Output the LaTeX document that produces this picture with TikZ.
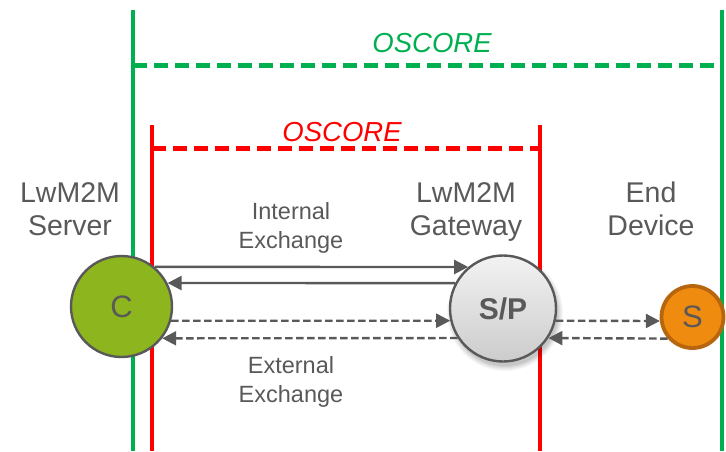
\documentclass[tikz,border=0pt]{standalone}
\usepackage{fontspec}
\setmainfont{Liberation Sans}
\usetikzlibrary{arrows.meta,calc}

\definecolor{oscgreen}{HTML}{00B050}
\definecolor{oscred}{HTML}{FF0000}
\definecolor{txtgray}{HTML}{595959}
\definecolor{clientgreen}{HTML}{8DB51E}
\definecolor{devorange}{HTML}{EF8B0E}
\definecolor{devborder}{HTML}{B7660E}

\tikzset{
  boundary/.style={line width=4pt},
  scopeline/.style={line width=5pt, dash pattern=on 14pt off 7pt},
  oscorelabel/.style={font=\fontsize{27.5}{32}\selectfont\itshape, anchor=base, inner sep=0pt},
  rolelabel/.style={font=\fontsize{28.5}{33}\selectfont, text=txtgray, align=center, anchor=north, inner sep=0pt},
  exlabel/.style={font=\fontsize{23.5}{29}\selectfont, text=txtgray, align=center, anchor=north, inner sep=0pt},
  endpoint/.style={circle, draw=txtgray, line width=2.4pt, inner sep=0pt, text=txtgray},
  msg/.style={draw=txtgray, line width=2.4pt, -{Triangle[length=14pt,width=14pt]}},
  msgdash/.style={msg, dash pattern=on 7.5pt off 3.5pt},
}

\begin{document}
\begin{tikzpicture}[x=1pt,y=-1pt]
  \useasboundingbox (0,0) rectangle (726,451);

  % end-to-end and hop-by-hop security boundaries
  \coordinate (gTopL) at (133,10);
  \coordinate (gBotL) at (133,451);
  \coordinate (gTopR) at (722,10);
  \coordinate (gBotR) at (722,451);
  \coordinate (gDashL) at (133,65);
  \coordinate (gDashR) at (722,65);
  \coordinate (rTopL) at (152,125);
  \coordinate (rBotL) at (152,451);
  \coordinate (rTopR) at (540,125);
  \coordinate (rBotR) at (540,451);
  \coordinate (rDashL) at (152,148);
  \coordinate (rDashR) at (540,148);

  \draw[boundary, oscgreen] (gTopL) -- (gBotL);
  \draw[boundary, oscgreen] (gTopR) -- (gBotR);
  \draw[scopeline, oscgreen] (gDashL) -- (gDashR);
  \draw[boundary, oscred, line width=4.5pt] (rTopL) -- (rBotL);
  \draw[boundary, oscred, line width=4.5pt] (rTopR) -- (rBotR);
  \draw[scopeline, oscred] (rDashL) -- (rDashR);

  \node[oscorelabel, text=oscgreen] (oscG) at (432,52) {OSCORE};
  \node[oscorelabel, text=oscred] (oscR) at (342,141) {OSCORE};

  % role captions
  \node[rolelabel] (srvLbl) at (70,182.8) {LwM2M\\Server};
  \node[rolelabel] (gwLbl) at (466,182.8) {LwM2M\\Gateway};
  \node[rolelabel] (devLbl) at (651,181.8) {End\\Device};
  \node[exlabel] (intLbl) at (291,202.2) {Internal\\Exchange};
  \node[exlabel] (extLbl) at (291,356.2) {External\\Exchange};

  % soft shadow under the gateway
  \foreach \r/\o in {58/0.03,57/0.03,56/0.04,55/0.04,54/0.05,53/0.05} {
    \fill[black, opacity=\o] (505,313) circle (\r);
  }

  % endpoints
  \node[endpoint, fill=clientgreen, minimum size=101pt,
        font=\fontsize{31}{31}\selectfont] (C) at (121.5,306.5) {C};
  \node[endpoint, top color=white!95!black, bottom color=white!80!black,
        minimum size=106pt, font=\fontsize{30}{30}\selectfont\bfseries] (SP) at (503,308.5) {S/P};
  \node[endpoint, draw=devborder, line width=3.8pt, fill=devorange, minimum size=62pt,
        font=\fontsize{31}{31}\selectfont] (S) at (692.5,317) {S};

  % internal exchange
  \draw[msg] (C.50) -- (SP.130);
  \draw[msg] (SP.152) -- (C.27);
  % external exchange
  \draw[msgdash] (C.-16) -- (SP.193.5);
  \draw[msgdash] (SP.213.5) -- (C.-38);
  \draw[msgdash] (SP.-13.5) -- (S.187);
  \draw[msgdash] (S.221) -- (SP.-33.5);
\end{tikzpicture}
\end{document}
